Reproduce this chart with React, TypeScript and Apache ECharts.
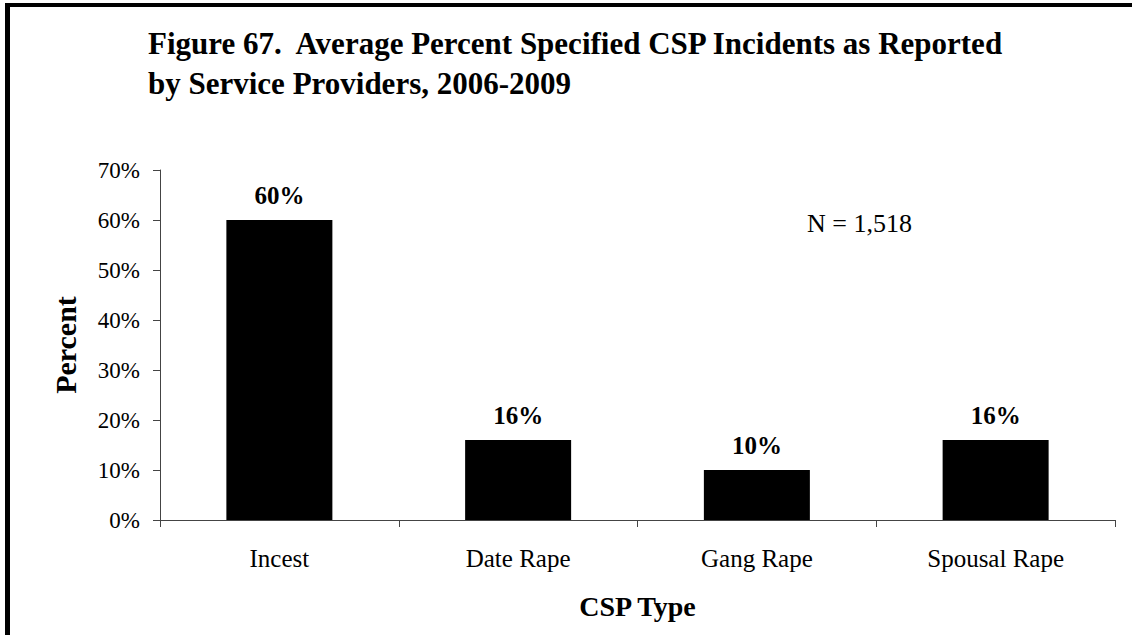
import React, { useEffect, useRef } from "react";
import * as echarts from "echarts";

const categories = ["Incest", "Date Rape", "Gang Rape", "Spousal Rape"];
const percentValues = [60, 16, 10, 16];
const titleLines = [
  "Figure 67.  Average Percent Specified CSP Incidents as Reported",
  "by Service Providers, 2006-2009",
];
const noteText = "N = 1,518";
const yAxisTitle = "Percent";
const xAxisTitle = "CSP Type";

const FONT = "'Liberation Serif', 'Times New Roman', serif";

export default function App() {
  const ref = useRef<HTMLDivElement>(null);
  useEffect(() => {
    if (!ref.current) return;
    const chart = echarts.init(ref.current, null, { renderer: "svg" });
    chart.setOption({
      animation: false,
      backgroundColor: "#ffffff",
      title: {
        text: titleLines.join("\n"),
        left: 143,
        top: 18,
        textStyle: {
          fontFamily: FONT,
          fontWeight: "bold",
          fontSize: 31,
          lineHeight: 40,
          color: "#000",
        },
      },
      grid: { left: 160, top: 170, width: 955, height: 350, containLabel: false },
      xAxis: {
        type: "category",
        data: categories,
        boundaryGap: true,
        name: xAxisTitle,
        nameLocation: "middle",
        nameGap: 72,
        nameTextStyle: { fontFamily: FONT, fontWeight: "bold", fontSize: 28, color: "#000", verticalAlign: "top" },
        axisLine: { show: true, lineStyle: { color: "#444", width: 1 } },
        axisTick: { show: true, interval: 0, length: 7, inside: false, lineStyle: { color: "#444" } },
        axisLabel: { fontFamily: FONT, fontSize: 25, color: "#000", margin: 26, interval: 0 },
        splitLine: { show: false },
      },
      yAxis: {
        type: "value",
        min: 0,
        max: 70,
        interval: 10,
        name: yAxisTitle,
        nameLocation: "middle",
        nameRotate: 90,
        nameGap: 80,
        nameTextStyle: { fontFamily: FONT, fontWeight: "bold", fontSize: 30, color: "#000" },
        axisLine: { show: true, lineStyle: { color: "#444", width: 1 } },
        axisTick: { show: true, length: 7, inside: false, lineStyle: { color: "#444" } },
        axisLabel: { fontFamily: FONT, fontSize: 23, color: "#000", margin: 20, formatter: "{value}%" },
        splitLine: { show: false },
      },
      series: [
        {
          type: "bar",
          data: percentValues,
          barWidth: 106,
          itemStyle: { color: "#000" },
          label: {
            show: true,
            position: "top",
            distance: 12,
            formatter: "{c}%",
            fontFamily: FONT,
            fontWeight: "bold",
            fontSize: 25,
            color: "#000",
          },
        },
      ],
      graphic: [
        {
          type: "line",
          shape: { x1: 5, y1: 5, x2: 1132, y2: 5 },
          style: { stroke: "#000", lineWidth: 4 },
        },
        {
          type: "line",
          shape: { x1: 7.5, y1: 3, x2: 7.5, y2: 635 },
          style: { stroke: "#000", lineWidth: 5 },
        },
        {
          type: "text",
          x: 807,
          y: 223,
          style: {
            text: noteText,
            fontFamily: FONT,
            fontSize: 26,
            fill: "#000",
            align: "left",
            verticalAlign: "middle",
          },
        },
      ],
    });
    return () => chart.dispose();
  }, []);
  return (
    <div
      ref={ref}
      style={{ position: "absolute", left: 0, top: 0, width: 1132, height: 635 }}
    />
  );
}
